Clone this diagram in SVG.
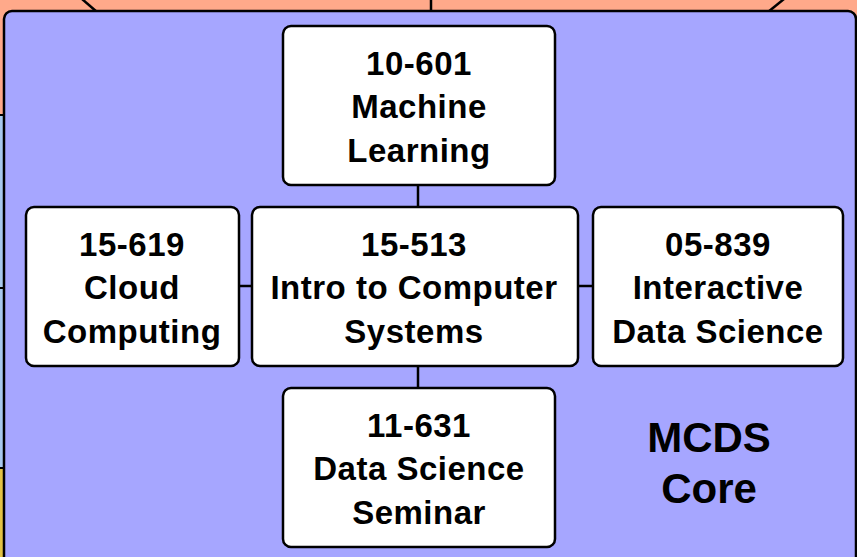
<svg xmlns="http://www.w3.org/2000/svg" width="857" height="557" viewBox="0 0 857 557">
<style>
.node rect{fill:#ffffff;stroke:#000;stroke-width:2.5}
.t{font-family:"Liberation Sans",Arial,sans-serif;font-weight:bold;font-size:33px;letter-spacing:0.5px;text-anchor:middle;fill:#000}
.conn line{stroke:#000;stroke-width:2.5}
.big{font-family:"Liberation Sans",Arial,sans-serif;font-weight:bold;font-size:42px;text-anchor:middle;fill:#000}
</style>
<rect x="0" y="0" width="857" height="557" fill="#ffa98a"/>
<g id="left-slivers">
<rect x="-10" y="115" width="14" height="173" fill="#a9c9ee" stroke="#000" stroke-width="2"/>
<rect x="-10" y="288" width="14" height="180" fill="#a9c9ee" stroke="#000" stroke-width="2"/>
<rect x="-10" y="468" width="14" height="100" fill="#e2c244" stroke="#000" stroke-width="2"/>
</g>
<g id="outer-lines" stroke="#000" stroke-width="2.5">
<line x1="82" y1="-1" x2="97" y2="12"/>
<line x1="431" y1="0" x2="431" y2="12"/>
<line x1="784" y1="-1" x2="768" y2="12"/>
</g>
<g id="mcds-core">
<rect x="4" y="11" width="852" height="560" rx="8" fill="#a6a6ff" stroke="#000" stroke-width="2.5"/>
<text class="big" x="709" y="452">MCDS</text>
<text class="big" x="709" y="503">Core</text>
</g>
<g class="conn" id="connectors">
<line x1="418" y1="185" x2="418" y2="207"/>
<line x1="418" y1="366" x2="418" y2="388"/>
<line x1="239" y1="286" x2="252" y2="286"/>
<line x1="578" y1="286" x2="593" y2="286"/>
</g>
<g class="node" id="n10601">
<rect x="283" y="26" width="272" height="159" rx="8"/>
<text class="t" x="419" y="75">10-601</text>
<text class="t" x="419" y="118">Machine</text>
<text class="t" x="419" y="162">Learning</text>
</g>
<g class="node" id="n15619">
<rect x="26" y="207" width="213" height="159" rx="8"/>
<text class="t" x="132" y="256">15-619</text>
<text class="t" x="132" y="299">Cloud</text>
<text class="t" x="132" y="343">Computing</text>
</g>
<g class="node" id="n15513">
<rect x="252" y="207" width="326" height="159" rx="8"/>
<text class="t" x="414" y="256">15-513</text>
<text class="t" x="414" y="299">Intro to Computer</text>
<text class="t" x="414" y="343">Systems</text>
</g>
<g class="node" id="n05839">
<rect x="593" y="207" width="250" height="159" rx="8"/>
<text class="t" x="718" y="256">05-839</text>
<text class="t" x="718" y="299">Interactive</text>
<text class="t" x="718" y="343">Data Science</text>
</g>
<g class="node" id="n11631">
<rect x="283" y="388" width="272" height="159" rx="8"/>
<text class="t" x="419" y="437">11-631</text>
<text class="t" x="419" y="480">Data Science</text>
<text class="t" x="419" y="524">Seminar</text>
</g>
</svg>
